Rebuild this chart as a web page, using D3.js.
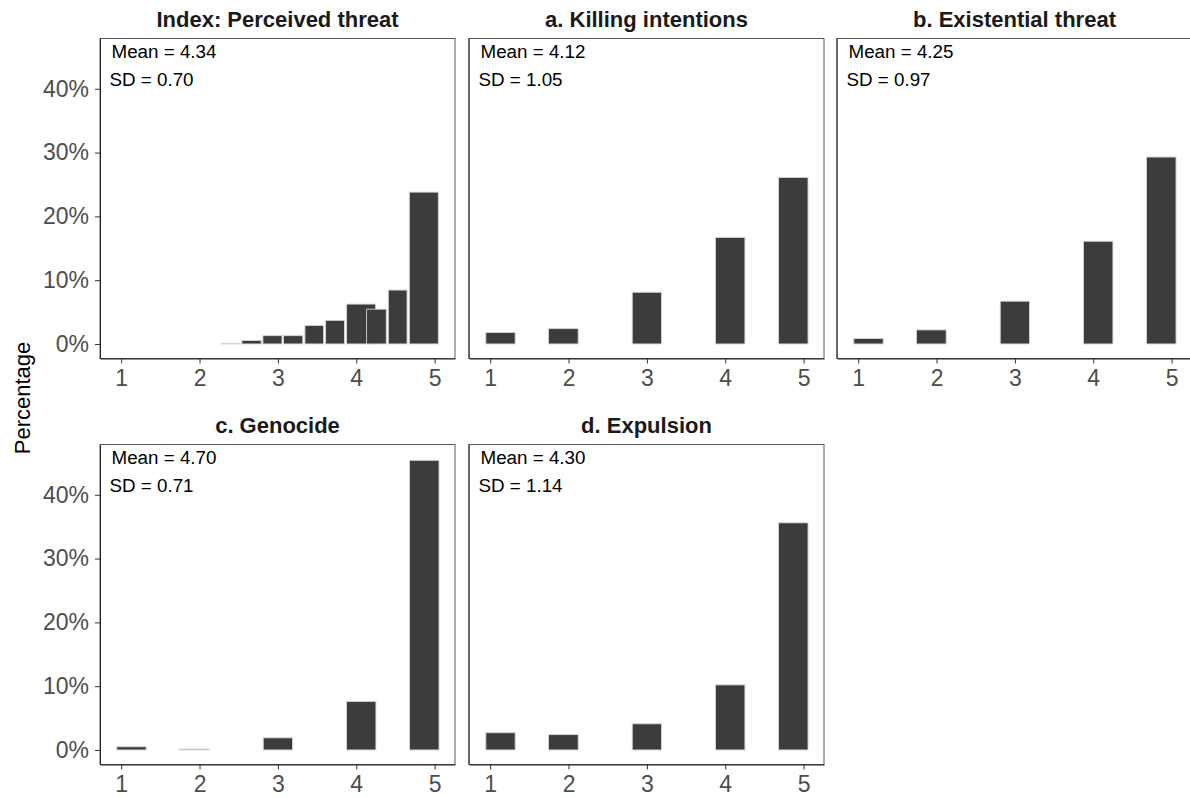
<!DOCTYPE html>
<html>
<head>
<meta charset="utf-8">
<script src="https://cdn.jsdelivr.net/npm/d3@7"></script>
<style>
  html, body { margin: 0; padding: 0; background: #ffffff; }
  svg { display: block; }
  text { font-family: "Liberation Sans", Arial, Helvetica, sans-serif; }
</style>
</head>
<body>
<svg id="chart" width="1190" height="798"></svg>
<script>
// Panel titles and summary statistics
const panelTitles = ["Index: Perceived threat", "a. Killing intentions", "b. Existential threat", "c. Genocide", "d. Expulsion"];
const panelMeans = ["4.34", "4.12", "4.25", "4.70", "4.30"];
const panelSDs = ["0.70", "1.05", "0.97", "0.71", "1.14"];

// Bin edges (scale units) for the single-item histograms
const itemBinLo = [0.945, 1.744, 2.813, 3.876, 4.680];
const itemBinHi = [1.319, 2.123, 3.187, 4.251, 5.056];

// Bin edges for the averaged index histogram
const indexBinLo = [2.277, 2.541, 2.809, 3.072, 3.345, 3.609, 3.877, 4.132, 4.409, 4.677];
const indexBinHi = [2.519, 2.787, 3.052, 3.318, 3.583, 3.850, 4.247, 4.383, 4.648, 5.047];

// Percentages per bin
const indexPct = [0.1, 0.55, 1.3, 1.3, 2.9, 3.7, 6.25, 5.45, 8.45, 23.8];
const killingPct = [1.8, 2.4, 8.1, 16.7, 26.1];
const existentialPct = [0.85, 2.2, 6.7, 16.1, 29.3];
const genocidePct = [0.5, 0.15, 1.9, 7.6, 45.4];
const expulsionPct = [2.7, 2.4, 4.1, 10.2, 35.6];

// Axis ticks
const xTicks = [1, 2, 3, 4, 5];
const yTicks = [0, 10, 20, 30, 40];
const yTickLabels = ["0%", "10%", "20%", "30%", "40%"];
const yAxisTitle = "Percentage";

const xDomain = [0.73, 5.26];
const yDomain = [-2.28, 47.88];

const panelW = 355, panelH = 320;
const colX = [100, 469, 837];
const rowY = [38.5, 444.5];

const panels = [
  { title: panelTitles[0], mean: panelMeans[0], sd: panelSDs[0], lo: indexBinLo, hi: indexBinHi, pct: indexPct, col: 0, row: 0 },
  { title: panelTitles[1], mean: panelMeans[1], sd: panelSDs[1], lo: itemBinLo, hi: itemBinHi, pct: killingPct, col: 1, row: 0 },
  { title: panelTitles[2], mean: panelMeans[2], sd: panelSDs[2], lo: itemBinLo, hi: itemBinHi, pct: existentialPct, col: 2, row: 0 },
  { title: panelTitles[3], mean: panelMeans[3], sd: panelSDs[3], lo: itemBinLo, hi: itemBinHi, pct: genocidePct, col: 0, row: 1 },
  { title: panelTitles[4], mean: panelMeans[4], sd: panelSDs[4], lo: itemBinLo, hi: itemBinHi, pct: expulsionPct, col: 1, row: 1 }
];

const svg = d3.select("#chart");
svg.append("rect").attr("width", 1190).attr("height", 798).attr("fill", "#ffffff");

const x = d3.scaleLinear().domain(xDomain).range([0, panelW]);
const y = d3.scaleLinear().domain(yDomain).range([panelH, 0]);

panels.forEach(p => {
  const g = svg.append("g")
    .attr("transform", `translate(${colX[p.col]},${rowY[p.row]})`);

  // Bars
  const bins = p.pct.map((v, i) => ({ lo: p.lo[i], hi: p.hi[i], v }));
  g.selectAll("rect.bar")
    .data(bins)
    .join("rect")
    .attr("class", "bar")
    .attr("x", d => x(d.lo))
    .attr("width", d => x(d.hi) - x(d.lo))
    .attr("y", d => y(d.v))
    .attr("height", d => y(0) - y(d.v))
    .attr("fill", "#3c3c3c")
    .attr("stroke", "#d4d4d4")
    .attr("stroke-width", 0.9);

  // Panel border
  g.append("rect")
    .attr("x", 0).attr("y", 0)
    .attr("width", panelW).attr("height", panelH)
    .attr("fill", "none")
    .attr("stroke", "#5a5a5a")
    .attr("stroke-width", 1);

  // X axis
  const xAxis = d3.axisBottom(x).tickValues(xTicks).tickSize(5).tickSizeOuter(0)
    .tickPadding(6).tickFormat(d3.format("d"));
  const xg = g.append("g").attr("transform", `translate(0,${panelH})`).call(xAxis);
  xg.select(".domain").attr("stroke", "#222222");
  xg.selectAll(".tick line").attr("stroke", "#333333");
  xg.selectAll(".tick text")
    .attr("font-size", 23)
    .attr("fill", "#4d4d4d")
    .attr("font-family", "Liberation Sans, Arial, sans-serif");

  // Y axis only for the left column
  if (p.col === 0) {
    const yAxis = d3.axisLeft(y).tickValues(yTicks).tickSize(5).tickSizeOuter(0).tickPadding(6)
      .tickFormat((d, i) => yTickLabels[i]);
    const yg = g.append("g").call(yAxis);
    yg.select(".domain").attr("stroke", "#222222");
    yg.selectAll(".tick line").attr("stroke", "#333333");
    yg.selectAll(".tick text")
      .attr("font-size", 23)
      .attr("fill", "#4d4d4d")
      .attr("font-family", "Liberation Sans, Arial, sans-serif");
  } else {
    g.append("line")
      .attr("x1", 0).attr("x2", 0).attr("y1", 0).attr("y2", panelH)
      .attr("stroke", "#222222");
  }

  // Panel title
  g.append("text")
    .attr("x", panelW / 2)
    .attr("y", -12)
    .attr("text-anchor", "middle")
    .attr("font-size", 22)
    .attr("font-weight", "bold")
    .attr("fill", "#1a1a1a")
    .text(p.title);

  // Summary statistics
  g.append("text")
    .attr("x", 11.5)
    .attr("y", 19.5)
    .attr("font-size", 18.8)
    .attr("fill", "#000000")
    .text(`Mean = ${p.mean}`);
  g.append("text")
    .attr("x", 9.5)
    .attr("y", 47.5)
    .attr("font-size", 18.8)
    .attr("fill", "#000000")
    .text(`SD = ${p.sd}`);
});

// Shared y-axis title
svg.append("text")
  .attr("transform", "translate(30,398) rotate(-90)")
  .attr("text-anchor", "middle")
  .attr("font-size", 22)
  .attr("fill", "#000000")
  .text(yAxisTitle);
</script>
</body>
</html>
